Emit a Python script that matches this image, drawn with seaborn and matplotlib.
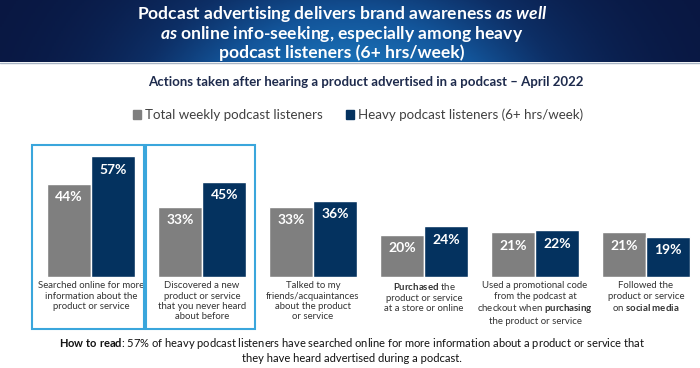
import numpy as np
import pandas as pd
import matplotlib
import matplotlib.pyplot as plt
import seaborn as sns
from matplotlib.colors import LinearSegmentedColormap
from matplotlib.patches import Rectangle, Patch

# Data
actions = [
    "Searched online for more\ninformation about the\nproduct or service",
    "Discovered a new\nproduct or service\nthat you never heard\nabout before",
    "Talked to my\nfriends/acquaintances\nabout the product\nor service",
    "$\\bf{Purchased}$ the\nproduct or service\nat a store or online",
    "Used a promotional code\nfrom the podcast at\ncheckout when $\\bf{purchasing}$\nthe product or service",
    "Followed the\nproduct or service\non $\\bf{social\\ media}$",
]
groups = ["Total weekly podcast listeners", "Heavy podcast listeners (6+ hrs/week)"]
total_weekly = [44, 33, 33, 20, 21, 21]
heavy = [57, 45, 36, 24, 22, 19]

title_lines = ["Podcast advertising delivers brand awareness $\\mathbfit{as\\ well}$",
               "$\\mathbfit{as}$ online info-seeking, especially among heavy",
               "podcast listeners (6+ hrs/week)"]
subtitle = "Actions taken after hearing a product advertised in a podcast \u2013 April 2022"
how_to_read = ("$\\bf{How\\ to\\ read}$: 57% of heavy podcast listeners have searched online for more information about a product or service that\n"
               "they have heard advertised during a podcast.")

GRAY = "#7f7f7f"
NAVY = "#04325f"
BOX = "#3aa6dc"

sns.set_style("white")
plt.rcParams['font.family'] = ['Lato', 'DejaVu Sans']
plt.rcParams['mathtext.fontset'] = 'custom'
plt.rcParams['mathtext.rm'] = 'Lato'
plt.rcParams['mathtext.bf'] = 'Lato:bold'
plt.rcParams['mathtext.it'] = 'Lato:italic'
plt.rcParams['mathtext.bfit'] = 'Lato:bold:italic'

W, H = 700, 368
fig = plt.figure(figsize=(W / 100, H / 100), dpi=100)

def fy(y):
    return 1 - y / H

# Header band: dark edges, lighter blue toward the bottom centre
hdr = fig.add_axes([0, fy(62), 1, 62 / H])
cmap = LinearSegmentedColormap.from_list("hdr", ["#091640", "#0d2f66", "#13559a", "#1a70b6"])
gx = np.linspace(-1, 1, 400)
gy = np.linspace(0, 1, 60)[:, None]
grad = np.exp(-(gx / 0.55) ** 2)[None, :] * (0.55 + 0.45 * gy)
hdr.imshow(grad, aspect='auto', cmap=cmap, extent=[0, 1, 0, 1], vmin=0, vmax=1)
hdr.set_axis_off()
fig.add_artist(plt.Line2D([0, 1], [fy(62.5), fy(62.5)], color="#a8b4c4", lw=1, transform=fig.transFigure))

for line, y in zip(title_lines, [14, 34, 53]):
    fig.text(342 / W, fy(y), line, ha='center', va='center',
             color='white', fontsize=12.6, fontweight='bold')

fig.text(366 / W, fy(82), subtitle, ha='center', va='center',
         color='#1e2b4d', fontsize=9.5, fontweight='bold')

# Bars
df = pd.DataFrame({
    "action": actions * 2,
    "group": [groups[0]] * len(actions) + [groups[1]] * len(actions),
    "pct": total_weekly + heavy,
})

ax = fig.add_axes([0, fy(277), 1, (277 - 145) / H])
sns.barplot(data=df, x="action", y="pct", hue="group", palette=[GRAY, NAVY],
            saturation=1, width=0.8, ax=ax, legend=False)
ax.set_xlim(-91 / 111, (W - 91) / 111)
ax.set_ylim(0, 132 / 2.12)
ax.set_xlabel("")
ax.set_ylabel("")
ax.set_yticks([])
sns.despine(ax=ax, left=True, bottom=True)
ax.tick_params(axis='x', length=0, pad=3, labelsize=6.9, labelcolor='#333333')
for lab in ax.get_xticklabels():
    lab.set_linespacing(1.2)
    lab.set_va('top')

for cont, vals in zip(ax.containers, [total_weekly, heavy]):
    ax.bar_label(cont, labels=[f"{v}%" for v in vals], padding=-14,
                 color='white', fontsize=10, fontweight='bold')

# Highlight boxes
for x0, x1 in [(32, 144), (146, 255)]:
    fig.add_artist(Rectangle((x0 / W, fy(329)), (x1 - x0) / W, (329 - 145) / H,
                             transform=fig.transFigure, fill=False, ec=BOX, lw=1.5))

# Legend
handles = [Patch(color=GRAY), Patch(color=NAVY)]
fig.legend(handles, groups, loc='center', bbox_to_anchor=(358 / W, fy(115)), ncol=2,
           frameon=False, handlelength=0.6, handleheight=0.6, handletextpad=0.3,
           columnspacing=1.7, fontsize=9.6, labelcolor='#404040')

fig.text(352 / W, fy(350), how_to_read, ha='center', va='center', color='#111111',
         fontsize=8, linespacing=1.3)

fig.savefig("out.png", dpi=100)
